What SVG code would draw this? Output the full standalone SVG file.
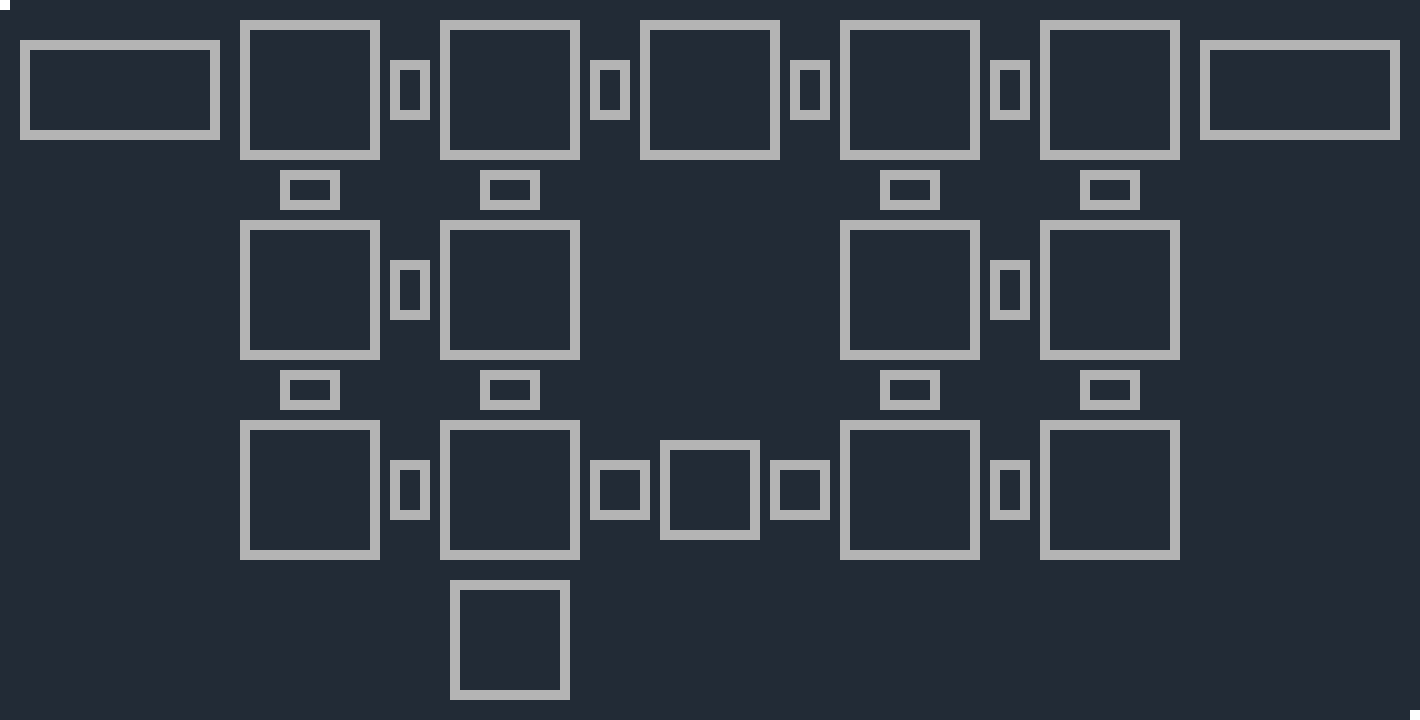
<svg xmlns="http://www.w3.org/2000/svg" width="1420" height="720" viewBox="0 0 1420 720">
<style>
.n{fill:none;stroke:#b4b4b4;stroke-width:10}
.c{fill:none;stroke:#b4b4b4;stroke-width:10}
</style>
<rect x="0" y="0" width="1420" height="720" fill="#222b36"/>
<rect x="0" y="0" width="10" height="10" fill="#ffffff"/>
<rect x="1410" y="710" width="10" height="10" fill="#ffffff"/>
<g id="nodes">
<g id="n-left"><rect class="n" x="25" y="45" width="190" height="90"/></g>
<g id="n-right"><rect class="n" x="1205" y="45" width="190" height="90"/></g>
<g id="n-r1c1"><rect class="n" x="245" y="25" width="130" height="130"/></g>
<g id="n-r1c2"><rect class="n" x="445" y="25" width="130" height="130"/></g>
<g id="n-r1c3"><rect class="n" x="645" y="25" width="130" height="130"/></g>
<g id="n-r1c4"><rect class="n" x="845" y="25" width="130" height="130"/></g>
<g id="n-r1c5"><rect class="n" x="1045" y="25" width="130" height="130"/></g>
<g id="n-r2c1"><rect class="n" x="245" y="225" width="130" height="130"/></g>
<g id="n-r2c2"><rect class="n" x="445" y="225" width="130" height="130"/></g>
<g id="n-r2c4"><rect class="n" x="845" y="225" width="130" height="130"/></g>
<g id="n-r2c5"><rect class="n" x="1045" y="225" width="130" height="130"/></g>
<g id="n-r3c1"><rect class="n" x="245" y="425" width="130" height="130"/></g>
<g id="n-r3c2"><rect class="n" x="445" y="425" width="130" height="130"/></g>
<g id="n-r3mid"><rect class="n" x="665" y="445" width="90" height="90"/></g>
<g id="n-r3c4"><rect class="n" x="845" y="425" width="130" height="130"/></g>
<g id="n-r3c5"><rect class="n" x="1045" y="425" width="130" height="130"/></g>
<g id="n-bottom"><rect class="n" x="455" y="585" width="110" height="110"/></g>
</g>
<g id="connectors">
<rect class="c" x="395" y="65" width="30" height="50"/>
<rect class="c" x="595" y="65" width="30" height="50"/>
<rect class="c" x="795" y="65" width="30" height="50"/>
<rect class="c" x="995" y="65" width="30" height="50"/>
<rect class="c" x="285" y="175" width="50" height="30"/>
<rect class="c" x="485" y="175" width="50" height="30"/>
<rect class="c" x="885" y="175" width="50" height="30"/>
<rect class="c" x="1085" y="175" width="50" height="30"/>
<rect class="c" x="395" y="265" width="30" height="50"/>
<rect class="c" x="995" y="265" width="30" height="50"/>
<rect class="c" x="285" y="375" width="50" height="30"/>
<rect class="c" x="485" y="375" width="50" height="30"/>
<rect class="c" x="885" y="375" width="50" height="30"/>
<rect class="c" x="1085" y="375" width="50" height="30"/>
<rect class="c" x="395" y="465" width="30" height="50"/>
<rect class="c" x="595" y="465" width="50" height="50"/>
<rect class="c" x="775" y="465" width="50" height="50"/>
<rect class="c" x="995" y="465" width="30" height="50"/>
</g>
</svg>
